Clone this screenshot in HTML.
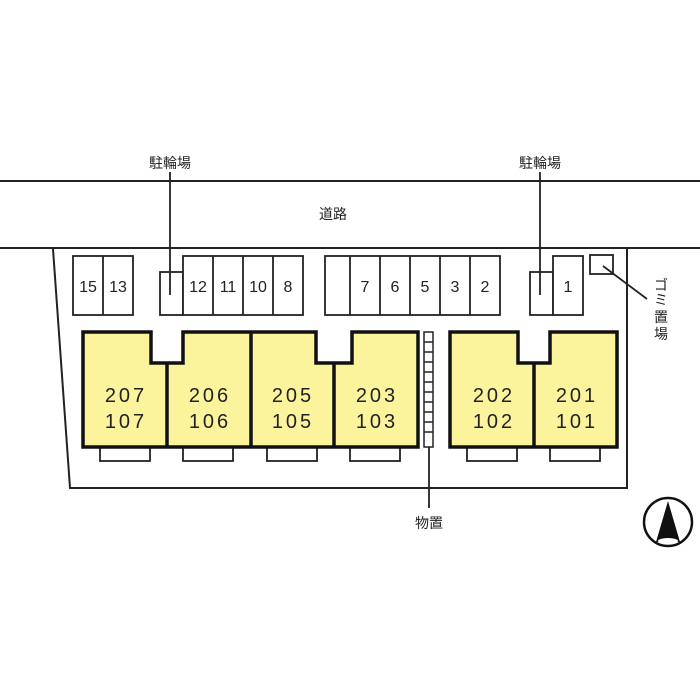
<!DOCTYPE html>
<html><head><meta charset="utf-8"><style>
html,body{margin:0;padding:0;background:#fff;}
svg{display:block;}
text{font-family:"Liberation Sans","Noto Sans CJK JP",sans-serif;fill:#222;}
.n{font-size:20px;letter-spacing:3px;text-anchor:middle;}
.p{font-size:16px;text-anchor:middle;}
.j{font-size:14px;text-anchor:middle;}
</style></head><body>
<svg width="700" height="700" viewBox="0 0 700 700" xmlns="http://www.w3.org/2000/svg">
<rect width="700" height="700" fill="#fff"/>
<g stroke="#222" stroke-width="2" fill="none">
<line x1="0" y1="181" x2="700" y2="181"/>
<line x1="0" y1="248" x2="700" y2="248"/>
<polyline points="53,249 70,488 627,488 627,249"/>
</g>
<text x="333" y="219" class="j">道路</text>
<!-- parking -->
<g stroke="#222" stroke-width="1.8" fill="#fff">
<rect x="73" y="256" width="60" height="59"/><line x1="103" y1="256" x2="103" y2="315"/>
<rect x="160" y="272" width="23" height="43"/>
<rect x="183" y="256" width="120" height="59"/>
<line x1="213" y1="256" x2="213" y2="315"/><line x1="243" y1="256" x2="243" y2="315"/><line x1="273" y1="256" x2="273" y2="315"/>
<rect x="325" y="256" width="175" height="59"/>
<line x1="350" y1="256" x2="350" y2="315"/><line x1="380" y1="256" x2="380" y2="315"/><line x1="410" y1="256" x2="410" y2="315"/><line x1="440" y1="256" x2="440" y2="315"/><line x1="470" y1="256" x2="470" y2="315"/>
<rect x="530" y="272" width="23" height="43"/>
<rect x="553" y="256" width="30" height="59"/>
<rect x="590" y="255" width="23" height="19"/>
<line x1="603" y1="266" x2="647" y2="299"/>
<line x1="170" y1="172" x2="170" y2="295"/>
<line x1="540" y1="172" x2="540" y2="295"/>
<line x1="429" y1="447" x2="429" y2="508"/>
</g>
<g class="p">
<text x="88" y="292" class="p">15</text><text x="118" y="292" class="p">13</text>
<text x="198" y="292" class="p">12</text><text x="228" y="292" class="p">11</text><text x="258" y="292" class="p">10</text><text x="288" y="292" class="p">8</text>
<text x="365" y="292" class="p">7</text><text x="395" y="292" class="p">6</text><text x="425" y="292" class="p">5</text><text x="455" y="292" class="p">3</text><text x="485" y="292" class="p">2</text>
<text x="568" y="292" class="p">1</text>
</g>
<text x="170" y="168" class="j">駐輪場</text>
<text x="540" y="168" class="j">駐輪場</text>
<text x="429" y="528" class="j">物置</text>
<g class="j"><text x="661" y="290" class="j">ゴ</text><text x="661" y="305" class="j">ミ</text><text x="661" y="322" class="j">置</text><text x="661" y="339" class="j">場</text></g>
<!-- balconies -->
<g stroke="#222" stroke-width="1.8" fill="#fff">
<rect x="100" y="447" width="50" height="14"/><rect x="183" y="447" width="50" height="14"/><rect x="267" y="447" width="50" height="14"/><rect x="350" y="447" width="50" height="14"/><rect x="467" y="447" width="50" height="14"/><rect x="550" y="447" width="50" height="14"/>
</g>
<!-- buildings -->
<g stroke="#111" stroke-width="3.5" fill="#fbf49c" stroke-linejoin="miter">
<polygon points="83,332 151,332 151,363 183,363 183,332 316,332 316,363 352,363 352,332 418,332 418,447 83,447"/>
<polygon points="450,332 518,332 518,363 550,363 550,332 617,332 617,447 450,447"/>
<line x1="167" y1="363" x2="167" y2="447"/>
<line x1="251" y1="332" x2="251" y2="447"/>
<line x1="334" y1="363" x2="334" y2="447"/>
<line x1="534" y1="363" x2="534" y2="447"/>
</g>
<!-- storage -->
<g stroke="#222" stroke-width="1.5" fill="#fff">
<rect x="424" y="332" width="9" height="115"/>
<path d="M424 342h9M424 352h9M424 362h9M424 372h9M424 382h9M424 392h9M424 402h9M424 412h9M424 422h9M424 432h9"/>
</g>
<g>
<text x="126" y="402" class="n">207</text><text x="126" y="428" class="n">107</text>
<text x="210" y="402" class="n">206</text><text x="210" y="428" class="n">106</text>
<text x="293" y="402" class="n">205</text><text x="293" y="428" class="n">105</text>
<text x="377" y="402" class="n">203</text><text x="377" y="428" class="n">103</text>
<text x="494" y="402" class="n">202</text><text x="494" y="428" class="n">102</text>
<text x="577" y="402" class="n">201</text><text x="577" y="428" class="n">101</text>
</g>
<!-- compass -->
<circle cx="668" cy="522" r="24" fill="#fff" stroke="#111" stroke-width="2.5"/>
<polygon points="668,501 656,542 680,542" fill="#111"/>
<ellipse cx="668" cy="541" rx="10" ry="3" fill="#fff"/>
</svg>
</body></html>
